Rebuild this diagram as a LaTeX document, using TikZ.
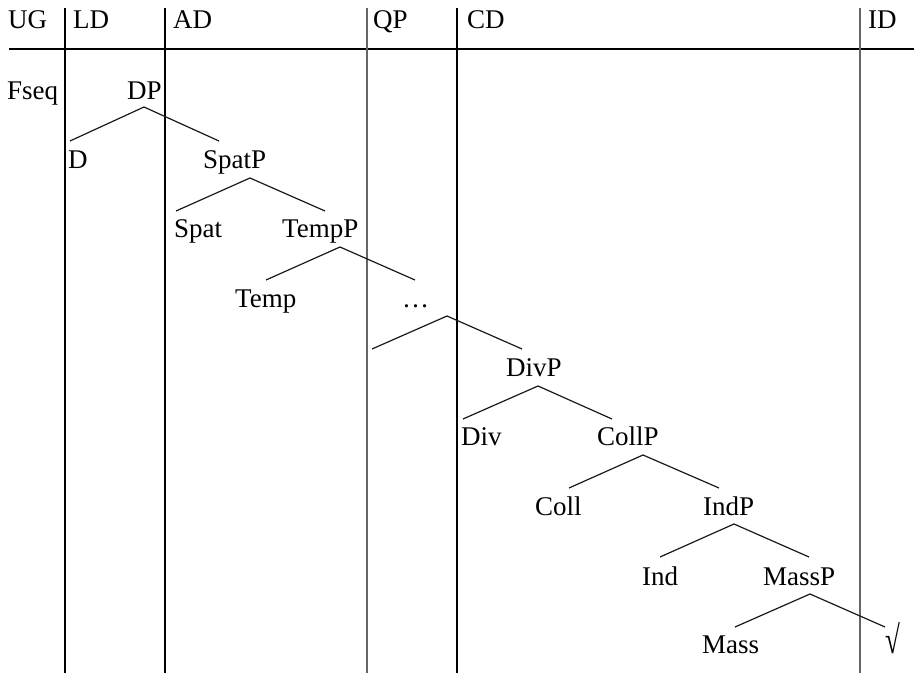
\documentclass[tikz,border=0pt]{standalone}
\usepackage{fontspec}
\setmainfont{Liberation Serif}
\begin{document}
\begin{tikzpicture}[x=1pt,y=-1pt,
  lbl/.style={anchor=base west,inner sep=0pt,font=\fontsize{27}{32}\selectfont},
  branch/.style={line width=1.2pt,black!90},
  rule/.style={line width=1.3pt,black},
  grayrule/.style={line width=1.3pt,black!60}]
\useasboundingbox (0,0) rectangle (914,674);
% column rules
\coordinate (h1) at (9,49); \coordinate (h2) at (914,49);
\draw[rule] (h1) -- (h2);
\coordinate (v1t) at (65,8);  \coordinate (v1b) at (65,673);
\coordinate (v2t) at (165,8); \coordinate (v2b) at (165,673);
\coordinate (v3t) at (367,8); \coordinate (v3b) at (367,673);
\coordinate (v4t) at (457,8); \coordinate (v4b) at (457,673);
\coordinate (v5t) at (860,8); \coordinate (v5b) at (860,673);
\draw[rule] (v1t) -- (v1b);
\draw[rule] (v2t) -- (v2b);
\draw[grayrule] (v3t) -- (v3b);
\draw[rule] (v4t) -- (v4b);
\draw[grayrule] (v5t) -- (v5b);
% headers
\node[lbl] (ug) at (8,29) {UG};
\node[lbl] (ld) at (73,29) {LD};
\node[lbl] (ad) at (173,29) {AD};
\node[lbl] (qp) at (373,29) {QP};
\node[lbl] (cd) at (467,29) {CD};
\node[lbl] (id) at (868,29) {ID};
% tree labels
\node[lbl] (fseq) at (7,100) {Fseq};
\node[lbl] (dp) at (127,100) {DP};
\node[lbl] (d) at (68,169) {D};
\node[lbl] (spatp) at (203,169) {SpatP};
\node[lbl] (spat) at (174,238) {Spat};
\node[lbl] (tempp) at (282,238) {TempP};
\node[lbl] (temp) at (235,307) {Temp};
\node[lbl] (dots) at (402,307) {\dots};
\node[lbl] (divp) at (506,376) {DivP};
\node[lbl] (div) at (461,445) {Div};
\node[lbl] (collp) at (597,445) {CollP};
\node[lbl] (coll) at (535,515) {Coll};
\node[lbl] (indp) at (703,515) {IndP};
\node[lbl] (ind) at (642,585) {Ind};
\node[lbl] (massp) at (763,585) {MassP};
\node[lbl] (mass) at (702,653) {Mass};
\node[lbl] (root) at (885,653) {\scalebox{1}[1.45]{√}};
% branches
\coordinate (a1) at (144,107); \coordinate (l1) at (70,141);  \coordinate (r1) at (219,141);
\coordinate (a2) at (250,178); \coordinate (l2) at (176,211); \coordinate (r2) at (325,211);
\coordinate (a3) at (340,247); \coordinate (l3) at (266,280); \coordinate (r3) at (415,280);
\coordinate (a4) at (447,316); \coordinate (l4) at (372,349); \coordinate (r4) at (522,349);
\coordinate (a5) at (538,386); \coordinate (l5) at (463,419); \coordinate (r5) at (612,419);
\coordinate (a6) at (643,455); \coordinate (l6) at (569,488); \coordinate (r6) at (719,488);
\coordinate (a7) at (734,524); \coordinate (l7) at (660,557); \coordinate (r7) at (809,557);
\coordinate (a8) at (810,594); \coordinate (l8) at (735,627); \coordinate (r8) at (885,627);
\foreach \i in {1,...,8}{\draw[branch] (l\i) -- (a\i) -- (r\i);}
\end{tikzpicture}
\end{document}
